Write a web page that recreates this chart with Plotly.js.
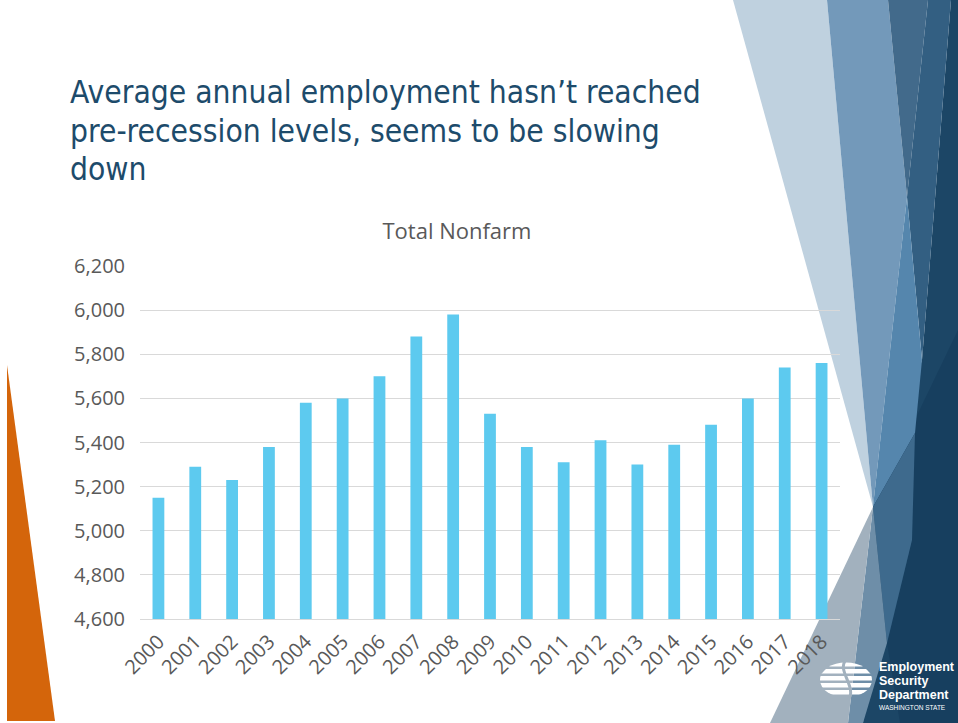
<!DOCTYPE html>
<html>
<head>
<meta charset="utf-8">
<script src="https://cdn.plot.ly/plotly-3.0.1.min.js"></script>
<style>
  html, body { margin: 0; padding: 0; background: #ffffff; }
  #slide { position: relative; width: 958px; height: 723px; overflow: hidden; background: #ffffff; }
  #deco { position: absolute; left: 0; top: 0; z-index: 0; }
  #chart { position: absolute; left: 0; top: 0; width: 958px; height: 723px; z-index: 1; }
  #headline { position: absolute; left: 70px; top: 73px; z-index: 2;
    font-family: "DejaVu Sans Condensed", sans-serif;
    font-size: 31.5px; line-height: 38.5px; color: #1D4B6B; white-space: nowrap; }
</style>
</head>
<body>
<div id="slide">
  <svg id="deco" width="958" height="723" viewBox="0 0 958 723">
    <!-- left orange accent -->
    <polygon points="7,365 7,721 55,721" fill="#D4650B"/>
    <!-- right facets -->
    <polygon points="951,0 958,0 958,723 863,723 873,507 922,360" fill="#1C4666"/>
    <polygon points="958,330 958,723 900,723 887,643 912,540 873,507" fill="#173F5F"/>
    <polygon points="733,0 827,0 873,507" fill="#BFD1DF"/>
    <polygon points="827,0 888,0 907,197 889,360 873,507" fill="#7399BA"/>
    <polygon points="888,0 928,0 907,197" fill="#426A8B"/>
    <polygon points="928,0 951,0 922,360 907,197" fill="#335F82"/>
    <polygon points="907,197 922,360 915,433 873,507 889,360" fill="#5586AD"/>
    <polygon points="873,507 915,433 912,540 887,643" fill="#3E6A8D"/>
    <polygon points="873,507 887,643 863,723 848,723" fill="#6E8EA8"/>
    <polygon points="873,507 848,723 770,723" fill="#A2B1BE"/>
    <!-- logo -->
    <defs>
      <clipPath id="globe"><ellipse cx="846" cy="680" rx="26" ry="17.5"/></clipPath>
    </defs>
    <g clip-path="url(#globe)" fill="#ffffff">
      <rect x="815" y="662" width="62" height="4.5"/>
      <rect x="815" y="669" width="62" height="4.5"/>
      <rect x="815" y="676" width="62" height="4.5"/>
      <rect x="815" y="683" width="62" height="4.5"/>
      <rect x="815" y="690" width="62" height="4.5"/>
    </g>
    <path d="M846,660 C836,670 858,688 848,700" stroke="#A2B1BE" stroke-width="3" fill="none"/>
    <g fill="#ffffff" font-family="Liberation Sans, Arial, sans-serif" font-weight="bold">
      <text x="879" y="671" font-size="12.5">Employment</text>
      <text x="879" y="685" font-size="12.5">Security</text>
      <text x="879" y="698.5" font-size="12.5">Department</text>
      <text x="879" y="710" font-size="6.5" font-weight="normal">WASHINGTON STATE</text>
    </g>
  </svg>
  <div id="headline">Average annual employment hasn’t reached<br>pre-recession levels, seems to be slowing<br>down</div>
  <div id="chart"></div>
</div>
<script>
const years = ["2000","2001","2002","2003","2004","2005","2006","2007","2008","2009",
               "2010","2011","2012","2013","2014","2015","2016","2017","2018"];
const totalNonfarm = [5150, 5290, 5230, 5380, 5580, 5600, 5700, 5880, 5980, 5530,
                      5380, 5310, 5410, 5300, 5390, 5480, 5600, 5740, 5760];
const yTicks = [4600, 4800, 5000, 5200, 5400, 5600, 5800, 6000, 6200];
const chartTitle = "Total Nonfarm";

const trace = {
  type: "bar",
  x: years,
  y: totalNonfarm,
  marker: { color: "#5DCAEF", line: { width: 0 } },
  hoverinfo: "skip"
};

const layout = {
  width: 958,
  height: 723,
  margin: { l: 140, r: 118, t: 266, b: 104, pad: 0 },
  paper_bgcolor: "rgba(0,0,0,0)",
  plot_bgcolor: "rgba(0,0,0,0)",
  showlegend: false,
  bargap: 0.68,
  title: {
    text: chartTitle,
    font: { family: "Open Sans, sans-serif", size: 22, color: "#595959" },
    xref: "container", x: 0.477, xanchor: "center",
    yref: "container", y: 1 - 231 / 723, yanchor: "middle"
  },
  xaxis: {
    type: "category",
    tickangle: -45,
    tickfont: { family: "Open Sans, sans-serif", size: 20, color: "#595959" },
    showgrid: false,
    showline: true,
    linecolor: "#D9D9D9",
    linewidth: 1,
    ticks: "",
    ticklabelstandoff: 2,
    fixedrange: true
  },
  yaxis: {
    range: [4600, 6200],
    tickvals: yTicks,
    tickformat: ",d",
    tickfont: { family: "Open Sans, sans-serif", size: 20, color: "#595959" },
    gridcolor: "#D9D9D9",
    gridwidth: 1,
    showline: false,
    zeroline: false,
    ticks: "",
    ticklabelstandoff: 14,
    fixedrange: true
  }
};

Plotly.newPlot("chart", [trace], layout, { staticPlot: true, displayModeBar: false });
</script>
</body>
</html>
